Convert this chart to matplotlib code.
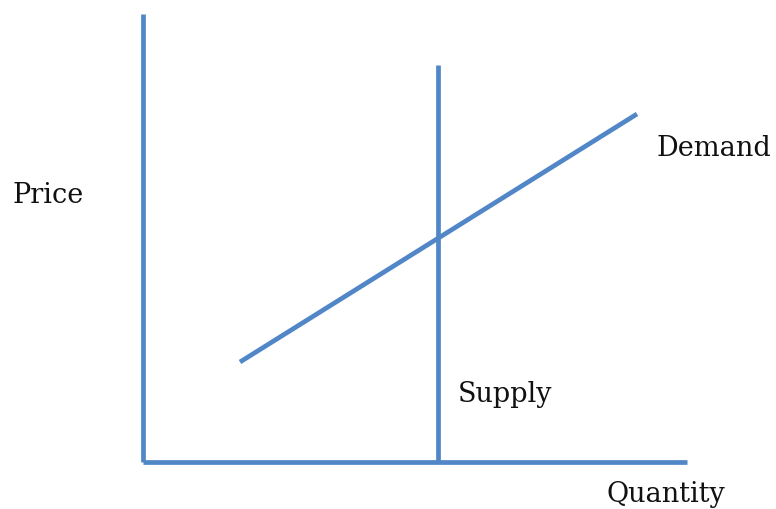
import matplotlib
matplotlib.use("Agg")
import matplotlib.pyplot as plt

# coordinates in px-like units, origin at the corner of the axes
price_axis_q = [0, 0]
price_axis_p = [0, 448]
qty_axis_q = [0, 544]
qty_axis_p = [0, 0]

supply_q = [295, 295]
supply_p = [0, 397]

demand_q = [97, 494]
demand_p = [100, 348]

labels = ["Price", "Demand", "Supply", "Quantity"]
label_q = [-131, 514, 315, 464]
label_p = [267, 314, 67, -33]

blue = "#5187c6"

fig = plt.figure(figsize=(7.76, 5.09), dpi=100)
ax = fig.add_axes([0, 0, 1, 1])
ax.set_xlim(-143, 633)
ax.set_ylim(-47, 462)
ax.axis("off")

ax.plot(price_axis_q, price_axis_p, color=blue, lw=3.4, solid_capstyle="butt")
ax.plot(qty_axis_q, qty_axis_p, color=blue, lw=3.4, solid_capstyle="butt")
ax.plot(supply_q, supply_p, color=blue, lw=3.4, solid_capstyle="butt")
ax.plot(demand_q, demand_p, color=blue, lw=3.4, solid_capstyle="butt")

for s, q, p in zip(labels, label_q, label_p):
    ax.text(q, p, s, fontsize=19.5, family="DejaVu Serif", ha="left", va="center", color="#111111")

fig.savefig("out.png", dpi=100)
